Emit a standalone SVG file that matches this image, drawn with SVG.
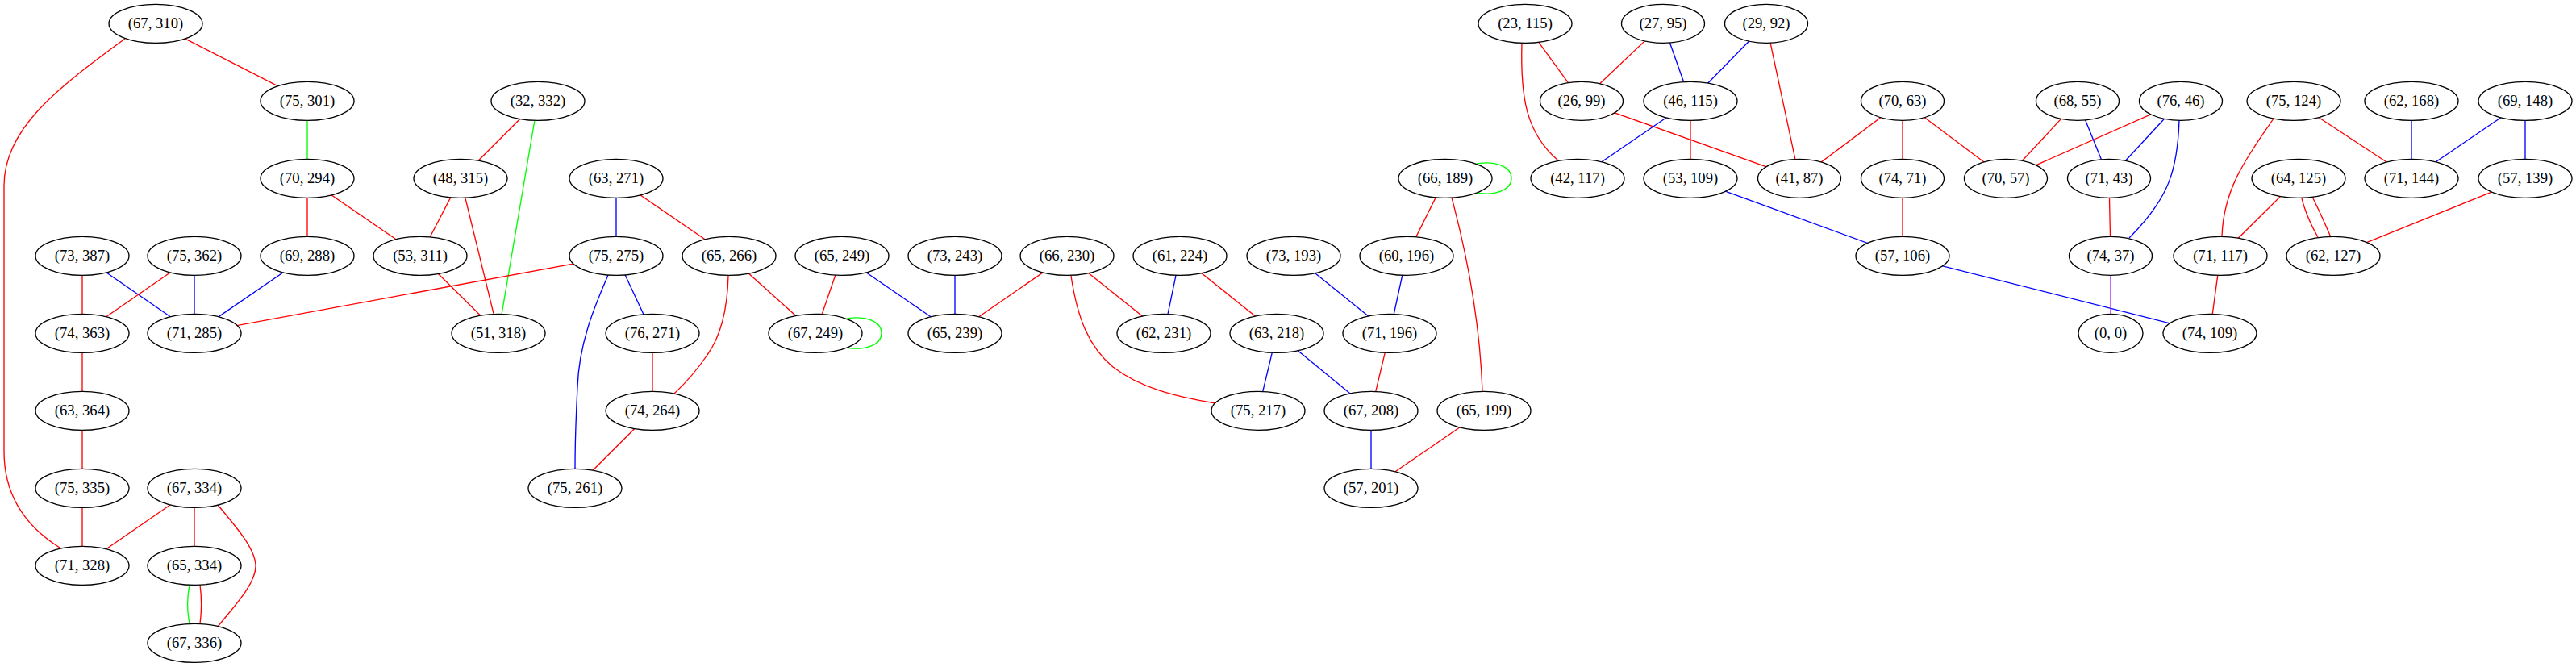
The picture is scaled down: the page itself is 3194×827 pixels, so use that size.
<svg xmlns="http://www.w3.org/2000/svg" width="3194" height="827" viewBox="0 0 3194 827">
<style>
.e{fill:none;stroke-width:1.33}
.r{stroke:#ff0000}.b{stroke:#0000ff}.g{stroke:#00ff00}.p{stroke:#a020f0}
.n ellipse{fill:#ffffff;stroke:#000000;stroke-width:1.33}
.n text{font-family:"Liberation Serif","Times New Roman",serif;font-size:18.67px;text-anchor:middle;fill:#000000}
</style>
<rect width="3194" height="827" fill="#ffffff"/>
<g id="edges">
<line class="e r" x1="193" y1="29.3" x2="381" y2="125.3"/>
<path class="e r" d="M155,48 C70,110 5,160 5,230 L5,560 C5,600 20,645 74,679"/>
<line class="e g" x1="381" y1="125.3" x2="381" y2="221.3"/>
<line class="e r" x1="667" y1="125.3" x2="571" y2="221.3"/>
<line class="e g" x1="667" y1="125.3" x2="618" y2="413.3"/>
<line class="e r" x1="381" y1="221.3" x2="381" y2="317.3"/>
<line class="e r" x1="381" y1="221.3" x2="521" y2="317.3"/>
<line class="e r" x1="571" y1="221.3" x2="521" y2="317.3"/>
<line class="e r" x1="571" y1="221.3" x2="618" y2="413.3"/>
<line class="e b" x1="764" y1="221.3" x2="764" y2="317.3"/>
<line class="e r" x1="764" y1="221.3" x2="904" y2="317.3"/>
<line class="e r" x1="102" y1="317.3" x2="102" y2="413.3"/>
<line class="e b" x1="102" y1="317.3" x2="241" y2="413.3"/>
<line class="e r" x1="241" y1="317.3" x2="102" y2="413.3"/>
<line class="e b" x1="241" y1="317.3" x2="241" y2="413.3"/>
<line class="e b" x1="381" y1="317.3" x2="241" y2="413.3"/>
<line class="e r" x1="521" y1="317.3" x2="618" y2="413.3"/>
<line class="e r" x1="764" y1="317.3" x2="241" y2="413.3"/>
<line class="e b" x1="764" y1="317.3" x2="809" y2="413.3"/>
<path class="e b" d="M754,341 C742,370 718,420 716,480 C714,520 713,560 713,581"/>
<line class="e r" x1="102" y1="413.3" x2="102" y2="509.3"/>
<line class="e r" x1="102" y1="509.3" x2="102" y2="605.3"/>
<line class="e r" x1="102" y1="605.3" x2="102" y2="701.3"/>
<line class="e r" x1="241" y1="605.3" x2="102" y2="701.3"/>
<line class="e r" x1="241" y1="605.3" x2="241" y2="701.3"/>
<path class="e r" d="M270,626 C290,650 317,680 317,702 C317,724 290,752 270,777"/>
<path class="e g" d="M235,725 C232,740 232,758 235,773"/>
<path class="e r" d="M248,725 C250,740 250,758 248,773"/>
<line class="e r" x1="809" y1="413.3" x2="809" y2="509.3"/>
<line class="e r" x1="809" y1="509.3" x2="713" y2="605.3"/>
<path class="e r" d="M903,342 C902,380 895,415 877,440 C862,462 850,475 836,488"/>
<line class="e r" x1="904" y1="317.3" x2="1011" y2="413.3"/>
<line class="e r" x1="1044" y1="317.3" x2="1011" y2="413.3"/>
<line class="e b" x1="1044" y1="317.3" x2="1184" y2="413.3"/>
<path class="e g" d="M1050,395 C1072,391 1093,398 1093,413 C1093,428 1072,435 1050,431"/>
<line class="e b" x1="1184" y1="317.3" x2="1184" y2="413.3"/>
<line class="e r" x1="1323" y1="317.3" x2="1184" y2="413.3"/>
<line class="e r" x1="1323" y1="317.3" x2="1443" y2="413.3"/>
<path class="e r" d="M1328,342 C1336,395 1350,430 1380,455 C1415,482 1460,492 1507,500"/>
<line class="e b" x1="1463" y1="317.3" x2="1443" y2="413.3"/>
<line class="e r" x1="1463" y1="317.3" x2="1583" y2="413.3"/>
<line class="e b" x1="1583" y1="413.3" x2="1560" y2="509.3"/>
<line class="e b" x1="1583" y1="413.3" x2="1700" y2="509.3"/>
<line class="e b" x1="1604" y1="317.3" x2="1723" y2="413.3"/>
<line class="e b" x1="1744" y1="317.3" x2="1723" y2="413.3"/>
<line class="e r" x1="1723" y1="413.3" x2="1700" y2="509.3"/>
<line class="e r" x1="1792" y1="221.3" x2="1744" y2="317.3"/>
<path class="e r" d="M1800,245 C1820,320 1835,400 1838,485"/>
<path class="e g" d="M1831,203 C1853,199 1874,206 1874,221 C1874,236 1853,243 1831,239"/>
<line class="e b" x1="1700" y1="509.3" x2="1700" y2="605.3"/>
<line class="e r" x1="1840" y1="509.3" x2="1700" y2="605.3"/>
<line class="e r" x1="1891" y1="29.3" x2="1961" y2="125.3"/>
<path class="e r" d="M1887,53 C1885,120 1892,165 1932,199"/>
<line class="e r" x1="2062" y1="29.3" x2="1961" y2="125.3"/>
<line class="e b" x1="2062" y1="29.3" x2="2096" y2="125.3"/>
<line class="e b" x1="2190" y1="29.3" x2="2096" y2="125.3"/>
<line class="e r" x1="2190" y1="29.3" x2="2231" y2="221.3"/>
<line class="e r" x1="1961" y1="125.3" x2="2231" y2="221.3"/>
<line class="e b" x1="2096" y1="125.3" x2="1956" y2="221.3"/>
<line class="e r" x1="2096" y1="125.3" x2="2096" y2="221.3"/>
<line class="e b" x1="2096" y1="221.3" x2="2359" y2="317.3"/>
<line class="e r" x1="2359" y1="125.3" x2="2231" y2="221.3"/>
<line class="e r" x1="2359" y1="125.3" x2="2359" y2="221.3"/>
<line class="e r" x1="2359" y1="125.3" x2="2487" y2="221.3"/>
<line class="e r" x1="2359" y1="221.3" x2="2359" y2="317.3"/>
<line class="e b" x1="2359" y1="317.3" x2="2740" y2="413.3"/>
<line class="e r" x1="2576" y1="125.3" x2="2487" y2="221.3"/>
<line class="e b" x1="2576" y1="125.3" x2="2615" y2="221.3"/>
<line class="e r" x1="2704" y1="125.3" x2="2487" y2="221.3"/>
<line class="e b" x1="2704" y1="125.3" x2="2615" y2="221.3"/>
<path class="e b" d="M2702,149 C2700,210 2690,245 2640,295"/>
<line class="e r" x1="2615" y1="221.3" x2="2617" y2="317.3"/>
<line class="e p" x1="2617" y1="317.3" x2="2617" y2="413.3"/>
<path class="e r" d="M2819,147 C2790,190 2757,230 2755,293"/>
<line class="e r" x1="2844" y1="125.3" x2="2990" y2="221.3"/>
<line class="e b" x1="2990" y1="125.3" x2="2990" y2="221.3"/>
<line class="e b" x1="3131" y1="125.3" x2="2990" y2="221.3"/>
<line class="e b" x1="3131" y1="125.3" x2="3131" y2="221.3"/>
<line class="e r" x1="2850" y1="221.3" x2="2753" y2="317.3"/>
<path class="e r" d="M2854,246 C2858,262 2866,280 2874,294"/>
<path class="e r" d="M2868,246 C2876,262 2884,280 2890,294"/>
<line class="e r" x1="3131" y1="221.3" x2="2893" y2="317.3"/>
<line class="e r" x1="2753" y1="317.3" x2="2740" y2="413.3"/>
</g>
<g id="n67_310" class="n"><ellipse cx="193" cy="29.3" rx="58" ry="24"/><text x="193" y="35">(67, 310)</text></g>
<g id="n23_115" class="n"><ellipse cx="1891" cy="29.3" rx="58" ry="24"/><text x="1891" y="35">(23, 115)</text></g>
<g id="n27_95" class="n"><ellipse cx="2062" cy="29.3" rx="51.5" ry="24"/><text x="2062" y="35">(27, 95)</text></g>
<g id="n29_92" class="n"><ellipse cx="2190" cy="29.3" rx="51.5" ry="24"/><text x="2190" y="35">(29, 92)</text></g>
<g id="n75_301" class="n"><ellipse cx="381" cy="125.3" rx="58" ry="24"/><text x="381" y="131">(75, 301)</text></g>
<g id="n32_332" class="n"><ellipse cx="667" cy="125.3" rx="58" ry="24"/><text x="667" y="131">(32, 332)</text></g>
<g id="n26_99" class="n"><ellipse cx="1961" cy="125.3" rx="51.5" ry="24"/><text x="1961" y="131">(26, 99)</text></g>
<g id="n46_115" class="n"><ellipse cx="2096" cy="125.3" rx="58" ry="24"/><text x="2096" y="131">(46, 115)</text></g>
<g id="n70_63" class="n"><ellipse cx="2359" cy="125.3" rx="51.5" ry="24"/><text x="2359" y="131">(70, 63)</text></g>
<g id="n68_55" class="n"><ellipse cx="2576" cy="125.3" rx="51.5" ry="24"/><text x="2576" y="131">(68, 55)</text></g>
<g id="n76_46" class="n"><ellipse cx="2704" cy="125.3" rx="51.5" ry="24"/><text x="2704" y="131">(76, 46)</text></g>
<g id="n75_124" class="n"><ellipse cx="2844" cy="125.3" rx="58" ry="24"/><text x="2844" y="131">(75, 124)</text></g>
<g id="n62_168" class="n"><ellipse cx="2990" cy="125.3" rx="58" ry="24"/><text x="2990" y="131">(62, 168)</text></g>
<g id="n69_148" class="n"><ellipse cx="3131" cy="125.3" rx="58" ry="24"/><text x="3131" y="131">(69, 148)</text></g>
<g id="n70_294" class="n"><ellipse cx="381" cy="221.3" rx="58" ry="24"/><text x="381" y="227">(70, 294)</text></g>
<g id="n48_315" class="n"><ellipse cx="571" cy="221.3" rx="58" ry="24"/><text x="571" y="227">(48, 315)</text></g>
<g id="n63_271" class="n"><ellipse cx="764" cy="221.3" rx="58" ry="24"/><text x="764" y="227">(63, 271)</text></g>
<g id="n66_189" class="n"><ellipse cx="1792" cy="221.3" rx="58" ry="24"/><text x="1792" y="227">(66, 189)</text></g>
<g id="n42_117" class="n"><ellipse cx="1956" cy="221.3" rx="58" ry="24"/><text x="1956" y="227">(42, 117)</text></g>
<g id="n53_109" class="n"><ellipse cx="2096" cy="221.3" rx="58" ry="24"/><text x="2096" y="227">(53, 109)</text></g>
<g id="n41_87" class="n"><ellipse cx="2231" cy="221.3" rx="51.5" ry="24"/><text x="2231" y="227">(41, 87)</text></g>
<g id="n74_71" class="n"><ellipse cx="2359" cy="221.3" rx="51.5" ry="24"/><text x="2359" y="227">(74, 71)</text></g>
<g id="n70_57" class="n"><ellipse cx="2487" cy="221.3" rx="51.5" ry="24"/><text x="2487" y="227">(70, 57)</text></g>
<g id="n71_43" class="n"><ellipse cx="2615" cy="221.3" rx="51.5" ry="24"/><text x="2615" y="227">(71, 43)</text></g>
<g id="n64_125" class="n"><ellipse cx="2850" cy="221.3" rx="58" ry="24"/><text x="2850" y="227">(64, 125)</text></g>
<g id="n71_144" class="n"><ellipse cx="2990" cy="221.3" rx="58" ry="24"/><text x="2990" y="227">(71, 144)</text></g>
<g id="n57_139" class="n"><ellipse cx="3131" cy="221.3" rx="58" ry="24"/><text x="3131" y="227">(57, 139)</text></g>
<g id="n73_387" class="n"><ellipse cx="102" cy="317.3" rx="58" ry="24"/><text x="102" y="323">(73, 387)</text></g>
<g id="n75_362" class="n"><ellipse cx="241" cy="317.3" rx="58" ry="24"/><text x="241" y="323">(75, 362)</text></g>
<g id="n69_288" class="n"><ellipse cx="381" cy="317.3" rx="58" ry="24"/><text x="381" y="323">(69, 288)</text></g>
<g id="n53_311" class="n"><ellipse cx="521" cy="317.3" rx="58" ry="24"/><text x="521" y="323">(53, 311)</text></g>
<g id="n75_275" class="n"><ellipse cx="764" cy="317.3" rx="58" ry="24"/><text x="764" y="323">(75, 275)</text></g>
<g id="n65_266" class="n"><ellipse cx="904" cy="317.3" rx="58" ry="24"/><text x="904" y="323">(65, 266)</text></g>
<g id="n65_249" class="n"><ellipse cx="1044" cy="317.3" rx="58" ry="24"/><text x="1044" y="323">(65, 249)</text></g>
<g id="n73_243" class="n"><ellipse cx="1184" cy="317.3" rx="58" ry="24"/><text x="1184" y="323">(73, 243)</text></g>
<g id="n66_230" class="n"><ellipse cx="1323" cy="317.3" rx="58" ry="24"/><text x="1323" y="323">(66, 230)</text></g>
<g id="n61_224" class="n"><ellipse cx="1463" cy="317.3" rx="58" ry="24"/><text x="1463" y="323">(61, 224)</text></g>
<g id="n73_193" class="n"><ellipse cx="1604" cy="317.3" rx="58" ry="24"/><text x="1604" y="323">(73, 193)</text></g>
<g id="n60_196" class="n"><ellipse cx="1744" cy="317.3" rx="58" ry="24"/><text x="1744" y="323">(60, 196)</text></g>
<g id="n57_106" class="n"><ellipse cx="2359" cy="317.3" rx="58" ry="24"/><text x="2359" y="323">(57, 106)</text></g>
<g id="n74_37" class="n"><ellipse cx="2617" cy="317.3" rx="51.5" ry="24"/><text x="2617" y="323">(74, 37)</text></g>
<g id="n71_117" class="n"><ellipse cx="2753" cy="317.3" rx="58" ry="24"/><text x="2753" y="323">(71, 117)</text></g>
<g id="n62_127" class="n"><ellipse cx="2893" cy="317.3" rx="58" ry="24"/><text x="2893" y="323">(62, 127)</text></g>
<g id="n74_363" class="n"><ellipse cx="102" cy="413.3" rx="58" ry="24"/><text x="102" y="419">(74, 363)</text></g>
<g id="n71_285" class="n"><ellipse cx="241" cy="413.3" rx="58" ry="24"/><text x="241" y="419">(71, 285)</text></g>
<g id="n51_318" class="n"><ellipse cx="618" cy="413.3" rx="58" ry="24"/><text x="618" y="419">(51, 318)</text></g>
<g id="n76_271" class="n"><ellipse cx="809" cy="413.3" rx="58" ry="24"/><text x="809" y="419">(76, 271)</text></g>
<g id="n67_249" class="n"><ellipse cx="1011" cy="413.3" rx="58" ry="24"/><text x="1011" y="419">(67, 249)</text></g>
<g id="n65_239" class="n"><ellipse cx="1184" cy="413.3" rx="58" ry="24"/><text x="1184" y="419">(65, 239)</text></g>
<g id="n62_231" class="n"><ellipse cx="1443" cy="413.3" rx="58" ry="24"/><text x="1443" y="419">(62, 231)</text></g>
<g id="n63_218" class="n"><ellipse cx="1583" cy="413.3" rx="58" ry="24"/><text x="1583" y="419">(63, 218)</text></g>
<g id="n71_196" class="n"><ellipse cx="1723" cy="413.3" rx="58" ry="24"/><text x="1723" y="419">(71, 196)</text></g>
<g id="n0_0" class="n"><ellipse cx="2617" cy="413.3" rx="40" ry="24"/><text x="2617" y="419">(0, 0)</text></g>
<g id="n74_109" class="n"><ellipse cx="2740" cy="413.3" rx="58" ry="24"/><text x="2740" y="419">(74, 109)</text></g>
<g id="n63_364" class="n"><ellipse cx="102" cy="509.3" rx="58" ry="24"/><text x="102" y="515">(63, 364)</text></g>
<g id="n74_264" class="n"><ellipse cx="809" cy="509.3" rx="58" ry="24"/><text x="809" y="515">(74, 264)</text></g>
<g id="n75_217" class="n"><ellipse cx="1560" cy="509.3" rx="58" ry="24"/><text x="1560" y="515">(75, 217)</text></g>
<g id="n67_208" class="n"><ellipse cx="1700" cy="509.3" rx="58" ry="24"/><text x="1700" y="515">(67, 208)</text></g>
<g id="n65_199" class="n"><ellipse cx="1840" cy="509.3" rx="58" ry="24"/><text x="1840" y="515">(65, 199)</text></g>
<g id="n75_335" class="n"><ellipse cx="102" cy="605.3" rx="58" ry="24"/><text x="102" y="611">(75, 335)</text></g>
<g id="n67_334" class="n"><ellipse cx="241" cy="605.3" rx="58" ry="24"/><text x="241" y="611">(67, 334)</text></g>
<g id="n75_261" class="n"><ellipse cx="713" cy="605.3" rx="58" ry="24"/><text x="713" y="611">(75, 261)</text></g>
<g id="n57_201" class="n"><ellipse cx="1700" cy="605.3" rx="58" ry="24"/><text x="1700" y="611">(57, 201)</text></g>
<g id="n71_328" class="n"><ellipse cx="102" cy="701.3" rx="58" ry="24"/><text x="102" y="707">(71, 328)</text></g>
<g id="n65_334" class="n"><ellipse cx="241" cy="701.3" rx="58" ry="24"/><text x="241" y="707">(65, 334)</text></g>
<g id="n67_336" class="n"><ellipse cx="241" cy="797.3" rx="58" ry="24"/><text x="241" y="803">(67, 336)</text></g>
</svg>
